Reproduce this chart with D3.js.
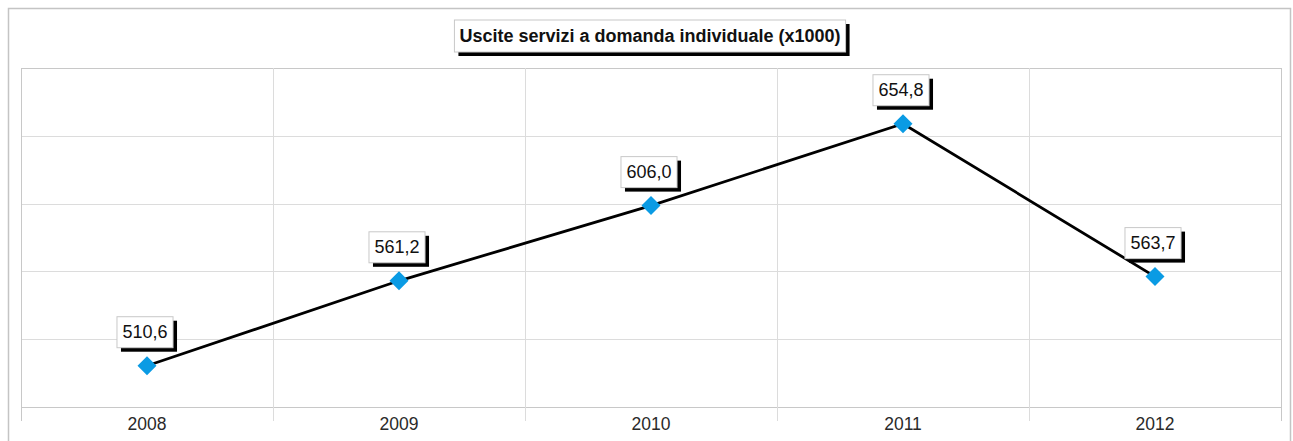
<!DOCTYPE html>
<html>
<head>
<meta charset="utf-8">
<script src="https://cdn.jsdelivr.net/npm/d3@7/dist/d3.min.js"></script>
<style>
  html, body { margin: 0; padding: 0; background: #fff; }
  svg { display: block; font-family: "Liberation Sans", Arial, sans-serif; }
</style>
</head>
<body>
<svg id="chart" width="1293" height="441"></svg>
<script>
// dati
const TITLE = "Uscite servizi a domanda individuale (x1000)";
const YEARS = ["2008", "2009", "2010", "2011", "2012"];
const VALUES = [510.6, 561.2, 606.0, 654.8, 563.7];
const LABELS = ["510,6", "561,2", "606,0", "654,8", "563,7"];
const Y_DOMAIN = [486, 688];
const Y_GRID = [486, 526.4, 566.8, 607.2, 647.6, 688];

const W = 1293;
const H = 441;
const PLOT = { left: 21, right: 1281, top: 68, bottom: 407 };

const svg = d3.select("#chart");

const x = d3.scaleBand().domain(YEARS).range([PLOT.left, PLOT.right]).padding(0);
const y = d3.scaleLinear().domain(Y_DOMAIN).range([PLOT.bottom, PLOT.top]);
const cx = (d) => x(d) + x.bandwidth() / 2;

// cornice esterna
svg.append("path")
  .attr("d", `M8.5,${H} V8.5 H${W - 2.5} V${H}`)
  .attr("fill", "none")
  .attr("stroke", "#c4c4c4")
  .attr("stroke-width", 1.5);

// griglia orizzontale
svg.append("g")
  .selectAll("line")
  .data(Y_GRID)
  .join("line")
  .attr("x1", PLOT.left)
  .attr("x2", PLOT.right)
  .attr("y1", (d) => Math.round(y(d)) + 0.5)
  .attr("y2", (d) => Math.round(y(d)) + 0.5)
  .attr("stroke", (d, i) => (i === 0 || i === Y_GRID.length - 1 ? "#c8c8c8" : "#dcdcdc"))
  .attr("stroke-width", 1);

// griglia verticale con tacche sotto l'asse
const edges = YEARS.map((d) => x(d)).concat([PLOT.right]);
svg.append("g")
  .selectAll("line")
  .data(edges)
  .join("line")
  .attr("x1", (d) => Math.round(d) + 0.5)
  .attr("x2", (d) => Math.round(d) + 0.5)
  .attr("y1", PLOT.top)
  .attr("y2", PLOT.bottom + 14)
  .attr("stroke", (d, i) => (i === 0 || i === edges.length - 1 ? "#c8c8c8" : "#dcdcdc"))
  .attr("stroke-width", 1);

// etichette asse x
svg.append("g")
  .selectAll("text")
  .data(YEARS)
  .join("text")
  .attr("x", cx)
  .attr("y", 429.5)
  .attr("text-anchor", "middle")
  .attr("font-size", 17.5)
  .attr("fill", "#2a2a2a")
  .text((d) => d);

// linea
const pts = YEARS.map((d, i) => ({ year: d, value: VALUES[i], label: LABELS[i] }));
svg.append("path")
  .datum(pts)
  .attr("fill", "none")
  .attr("stroke", "#000")
  .attr("stroke-width", 2.8)
  .attr("d", d3.line().x((d) => cx(d.year)).y((d) => y(d.value)));

// marcatori a rombo
svg.append("g")
  .selectAll("path")
  .data(pts)
  .join("path")
  .attr("transform", (d) => `translate(${cx(d.year)},${y(d.value)})`)
  .attr("d", "M0,-9.5 L9.5,0 L0,9.5 L-9.5,0 Z")
  .attr("fill", "#0a9be4");

// box con ombra
function boxLabel(g, px, py, text, opts) {
  const t = g.append("text")
    .attr("x", px)
    .attr("y", py)
    .attr("text-anchor", "middle")
    .attr("dominant-baseline", "central")
    .attr("font-size", opts.size)
    .attr("font-weight", opts.weight)
    .attr("fill", "#111")
    .text(text);
  const bb = t.node().getBBox();
  const bw = bb.width + opts.padX * 2;
  const bh = opts.h;
  const bx = px - bw / 2;
  const by = py - bh / 2;
  g.insert("rect", "text")
    .attr("x", bx + 4)
    .attr("y", by + 4)
    .attr("width", bw)
    .attr("height", bh)
    .attr("fill", "#000");
  g.insert("rect", "text")
    .attr("x", bx)
    .attr("y", by)
    .attr("width", bw)
    .attr("height", bh)
    .attr("fill", "#fff")
    .attr("stroke", "#c8c8c8")
    .attr("stroke-width", 1);
}

pts.forEach((d) => {
  const g = svg.append("g");
  boxLabel(g, cx(d.year) - 2, y(d.value) - 33.5, d.label, { size: 18, weight: 400, padX: 5.5, h: 31 });
});

// titolo
boxLabel(svg.append("g"), 650, 36, TITLE, { size: 18, weight: 700, padX: 5, h: 32 });
</script>
</body>
</html>
